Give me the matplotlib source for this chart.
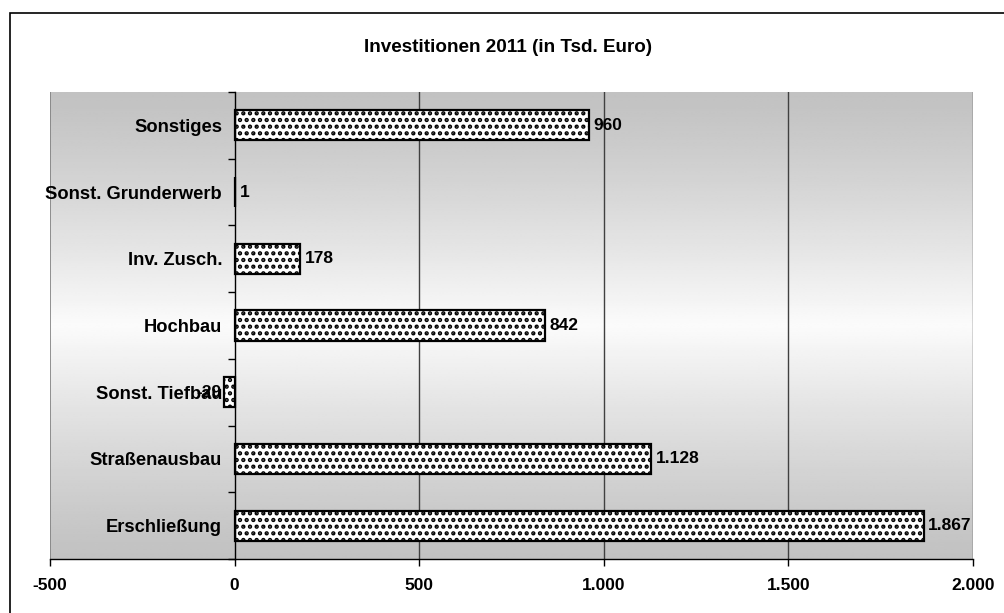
import matplotlib
import numpy as np

matplotlib.use("Agg")
import matplotlib.pyplot as plt
from matplotlib.patches import Rectangle

# render at 120 dpi so the dotted hatch tile gets the coarser spacing of the original;
# all point sizes are scaled back by K so the pixel layout stays the same
DPI = 120
K = 100 / DPI

plt.rcParams["font.family"] = ["Liberation Sans", "DejaVu Sans"]
plt.rcParams["font.weight"] = "bold"
plt.rcParams["hatch.linewidth"] = 2.1 * K

# data, top to bottom as drawn
categories = ["Sonstiges", "Sonst. Grunderwerb", "Inv. Zusch.", "Hochbau",
              "Sonst. Tiefbau", "Straßenausbau", "Erschließung"]
values = [960, 1, 178, 842, -29, 1128, 1867]
xticks = [-500, 0, 500, 1000, 1500, 2000]
title = "Investitionen 2011 (in Tsd. Euro)"


def de(v):
    return f"{v:,}".replace(",", ".")


W, H = 1004, 613
fs = 12.5 * K
fig = plt.figure(figsize=(W / DPI, H / DPI), dpi=DPI)
fig.patches.append(Rectangle((10 / W, -0.1), 1.2, 1 - 13 / H + 0.1, transform=fig.transFigure,
                             fill=False, edgecolor="black", lw=1.2 * K))
fig.text(508 / W, 1 - 47 / H, title, ha="center", va="center", fontsize=13.6 * K, fontweight="bold")

left, right, top, bottom = 50, 973, 92, 559
ax = fig.add_axes([left / W, 1 - bottom / H, (right - left) / W, (bottom - top) / H])

n = len(categories)
y = np.arange(n)[::-1]
ax.set_xlim(-500, 2000)
ax.set_ylim(-0.5, n - 0.5)

# vertical gradient background: grey at top/bottom, near white in the middle
t = np.linspace(-1, 1, 256)
g = 0.76 + (0.985 - 0.76) * (1 - np.abs(t)) ** 1.2
ax.imshow(np.repeat(g[:, None], 2, axis=1), cmap="gray", vmin=0, vmax=1, aspect="auto",
          extent=(-500, 2000, -0.5, n - 0.5), zorder=0, interpolation="bilinear")

for gx in xticks[2:]:
    ax.axvline(gx, color="#404040", lw=1 * K, zorder=1)
ax.axvline(-500, color="#808080", lw=1.2 * K, zorder=1)

ax.barh(y, values, height=0.45, color="white", edgecolor="black", hatch="...",
        lw=1.6 * K, zorder=3)

for yi, v in zip(y, values):
    if v >= 0:
        ax.text(v + 12, yi, de(v), ha="left", va="center", fontsize=fs, fontweight="bold", zorder=4)
    else:
        ax.text(v - 6, yi, de(v), ha="right", va="center", fontsize=fs, fontweight="bold", zorder=4)

for s in ["top", "right"]:
    ax.spines[s].set_visible(False)
ax.spines["bottom"].set_color("black")
ax.spines["bottom"].set_linewidth(1 * K)
ax.spines["left"].set_linewidth(1 * K)
ax.spines["left"].set_position(("data", 0))
ax.spines["left"].set_zorder(5)

ax.set_yticks(y)
ax.set_yticklabels(categories, fontsize=13.2 * K, fontweight="bold")
ax.set_yticks(np.arange(n + 1) - 0.5, minor=True)
ax.tick_params(axis="y", which="major", length=0, pad=9 * K)
ax.tick_params(axis="y", which="minor", length=5 * K, direction="out", width=1 * K)

ax.set_xticks(xticks)
ax.set_xticklabels([de(v) for v in xticks], fontsize=fs, fontweight="bold")
ax.tick_params(axis="x", length=5 * K, width=1 * K, direction="out", pad=9 * K)

fig.savefig("out.png", dpi=DPI)
